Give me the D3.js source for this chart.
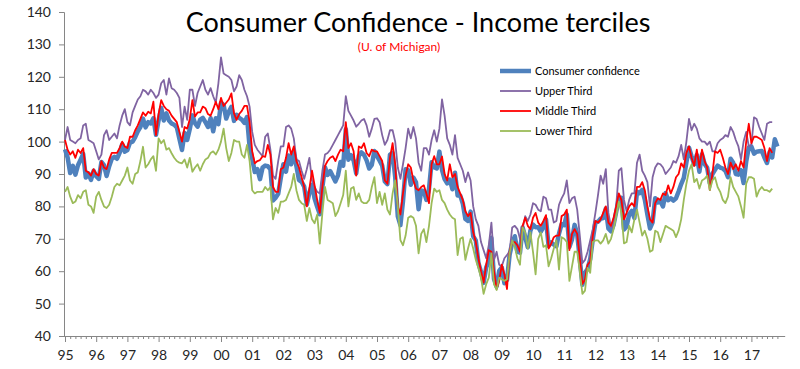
<!DOCTYPE html>
<html><head><meta charset="utf-8">
<script src="https://cdn.jsdelivr.net/npm/d3@7/dist/d3.min.js"></script>
<style>body{margin:0;background:#fff}svg{display:block}text{font-family:Lato,"Liberation Sans",sans-serif}</style>
</head><body>
<svg id="chart" width="800" height="369"></svg>
<script>
// ---- data (monthly, Jan 1995 onward) ----
const yearLabels = ["95","96","97","98","99","00","01","02","03","04","05","06","07","08","09","10","11","12","13","14","15","16","17"];
const yTicks = [40,50,60,70,80,90,100,110,120,130,140];
const seriesNames = ["Consumer confidence","Upper Third","Middle Third","Lower Third"];

const consumer = [
97.6,95.1,90.3,92.5,89.8,92.7,94.4,96.2,88.9,90.2,88.2,91.0,
89.3,88.5,93.7,92.7,89.4,92.4,94.7,95.3,94.7,96.5,99.2,96.9,
97.4,99.7,100.0,101.4,103.2,104.5,107.1,104.4,106.0,105.6,107.2,102.1,
106.6,110.4,106.5,108.7,106.5,105.6,105.2,104.4,100.9,97.4,102.7,100.5,
103.9,108.1,105.7,104.6,106.8,107.3,106.0,104.5,107.2,103.2,107.2,105.4,
112.0,111.3,107.1,109.2,110.7,106.4,108.3,107.3,106.8,105.8,107.6,98.4,
94.7,90.6,91.5,88.4,92.0,92.6,92.4,91.5,81.8,82.7,83.9,88.8,
93.0,90.7,95.7,93.0,96.9,92.4,88.1,87.6,86.1,80.6,84.2,86.7,
82.4,79.9,77.6,86.0,92.1,89.7,90.9,89.3,87.7,89.6,93.7,92.6,
103.8,94.4,95.8,94.2,90.2,95.6,96.7,95.9,94.2,91.7,92.8,97.1,
95.5,94.1,92.6,87.7,86.9,96.0,96.5,89.1,76.9,74.2,81.6,91.5,
91.2,86.7,88.9,87.4,79.1,84.9,84.7,82.0,85.4,93.6,92.1,91.7,
96.9,91.3,88.4,87.1,88.3,85.3,90.4,83.4,83.4,80.9,76.1,75.5,
78.4,70.8,69.5,62.6,59.8,56.4,61.2,63.0,70.3,57.6,55.3,60.1,
61.2,56.3,57.3,65.1,68.7,70.8,66.0,65.7,73.5,70.6,67.4,72.5,
74.4,73.6,73.6,72.2,73.6,76.0,67.8,68.9,68.2,67.7,71.6,74.5,
74.2,77.5,67.5,69.8,74.3,71.5,63.7,55.8,59.5,60.8,63.7,69.9,
75.0,75.3,76.2,76.4,79.3,73.2,72.3,74.3,78.3,82.6,82.7,72.9,
73.8,77.6,78.6,76.4,84.5,84.1,85.1,82.1,77.5,73.2,75.1,82.5,
81.2,81.6,80.0,84.1,81.9,82.5,81.8,82.5,84.6,86.9,88.8,93.6,
98.1,95.4,93.0,95.9,90.7,96.1,93.1,91.9,87.2,90.0,91.3,92.6,
92.0,91.7,91.0,89.0,94.7,93.5,90.0,89.8,91.2,87.2,93.8,98.2,
98.5,96.3,96.9,97.0,97.1,95.1,93.4,96.8,95.1,100.7,98.5
];

const upperThird = [
100.5,104.5,100.5,100,99.5,100.5,101,105,105.5,100.5,100,99.5,
97,94.5,96,102,103.5,100.5,101.5,102.5,101,105,108,110,
106,105,109,111,113,114,116,115.5,114.5,116,115,113.5,
114.5,118,119,114.5,119.5,116.5,116,115,113.5,104.5,110.8,106.7,
116,116,111,115,117,119,116,114.5,116.5,114,112,118,
126,121,120.5,120,119,115.5,117,120.5,119,116,114,110.8,
103,99,97.5,96.5,95.5,101.5,102.5,97.5,89.5,88.5,94,98.5,
98.5,104.5,105,104,101,94.5,94,91,88.5,91.5,95,88,
86,84.5,84,91,96,96.5,97.5,99,100.5,102,103.5,105,
114,109.5,108,106.5,104.6,105.5,106.5,107,105,101.5,104,107,
107.2,106,102,99,100.5,103.5,103.5,100,92,88.5,93,98,
104,101,104.5,101,93.5,91,98,98,96,100.5,103.5,100,
104,113,108,101,99,96,102,95,93,91,87.5,90.5,
88,80,76,74,69,66.5,64,68,75,63.5,66,62,
61.5,64,65,66,73.5,74,73,70,73,77,75.5,77.5,
81,80.5,79,78.5,83,82.5,79,79,75,75.5,80.5,82.5,
84,88,81,82.5,83,79,71,62.5,63.5,66,69.5,73,
78,83.5,89.5,87,91.5,78,73.5,73.5,80,91,91.8,82,
78.5,82,84,84,93.5,96,91,89.5,87.5,80,89,92,
93.3,93,92,90,91,92,94,93.5,95.5,99,94.5,100,
107,103.5,105.5,104,101,100,100,99,100,97,97,99.5,
100.5,101,102,101.5,104.5,103,100.5,98.5,94.5,100,103,98.5,
99,107.5,107,104.5,102.5,100.5,105.5,106,106
];

const middleThird = [
100.5,97.5,96,97,95,97.5,96.5,98,91,90.5,89.5,91.5,
90,89.5,94,92,91.5,94.5,96.5,96.5,96.5,98,100,98.5,
98,101.5,101.5,103.5,105,107,109,108,109.2,108.7,112.3,102,
108.5,112.8,111,110,109.5,108,107,106,103,100,104.5,104,
107,112.8,107.7,109,109,110.8,110.3,108.5,108,110,112.3,110,
113.5,111,112,113,114.9,108.7,106.7,108.5,109.5,111,111,106,
97,93.3,94,94.3,95.5,95.3,99,96,86,84.5,84.5,91.5,
92,95,99.5,96,98.5,94,92,89,86,80,85.5,91,
86.5,82,78,86,92.5,94,95,95.5,94,96,97.5,97,
106,98,99.5,97,89.5,98.5,98,99.5,96.5,95.5,97.5,97,
97,95.5,94,88,87,95,99.5,93,80,77.5,84,89.5,
93,92,88,85.5,85,86,86.5,84,81,93,95.5,93,
93,95.4,90,88,93,89,90,86,84,82,78.5,77,
78,72,69,64,60,56.5,62,66.5,66,60,54.5,57,
62,59,54.5,66,69,69,68,66,74,76.5,74,73,
76.5,78,75,74,75.5,77.3,67,68.5,70.5,71,71,77,
77.5,79,66.5,71.5,73,71.5,64,56,57.5,62,63,71,
75.5,75,76,78,80,75,74,76.5,80,84,82,76,
78,80,81,80,86,86,87.5,85,80,76,75,81,
82.5,82,84,83.5,86.5,84,86,89,90,93.3,92,96.5,
98.5,95,92.5,97.5,92,97.5,94,92,85,90,97,96.5,
97.5,95,92,90,93.5,91.5,93,91,94,92,100,105.5,
99.5,101.5,101.5,101,100.5,98,94,98,96.5
];

const lowerThird = [
84.5,86,83,81,81.5,83.5,82.5,84.5,85,80.5,80,78,
83,84.5,82,80,79.5,80.5,83,86,87,86.5,88,89.5,
92,88,87,90,90.5,94,98.4,92,93,94.5,95.5,91,
101,99.5,100.5,97.5,98,96.4,95,94,93.5,93.3,94.5,92,
95,90.7,92,93,91,93,94.5,95,96.5,97,96,97.5,
100,104,98,94,96.5,100.5,100,100,96,95,99,94,
85,84,84.5,84.5,84.5,86,85,86,76,79.5,78,81.5,
81.5,82,84,86,90,85,82,81,80.5,75.5,79.5,76,
74.8,77.5,68.5,78,86,82,81.5,81,77,78.5,81,83.5,
91,80,85.5,86,82,84,81.5,81,81,82,86,89,
81,84.5,80.5,84,79,77.5,84,88,80,69.6,68,71,
76.5,77,76.5,74,65.5,71.5,73,69,74,81,85.5,84.5,
85,82,81,79,77.5,76.5,76,65,70,70.5,63.5,67,
70,67,63.5,61,58,53,56,58,65.5,56,54.2,58,
57.5,57,57.5,65.5,69.5,67.5,64,62,73.5,72,67,72,
66,59,70,72,67.5,68,61.5,64,67,69.5,60.5,70.5,
70,69,57,61.5,66,66,60,53,54,61,59.5,69,
69.5,69.5,68.5,69.5,71.5,68.5,70,73,77,81.5,78,68.6,
69,74,72,76,79,75,71,72.5,70,66,66.5,72.5,
72,69,71.5,74,73.5,73,72.5,70.5,72.5,76,82,87,
91,93,87.5,88.5,85.5,88,88.5,89.5,85,88,89,86,
84.5,82,81,83,89,86,84.5,83,80,76.5,87,89,
89,88.5,83,85,86,85,85,84.5,85.5
];

// ---- chart ----
const svg = d3.select("#chart");
const x = d3.scaleLinear().domain([0, 277]).range([65, 65 + 277 * 2.6]);
const y = d3.scaleLinear().domain([40, 140]).range([336, 12]);
const axisColor = "#868686";

// y axis
const gy = svg.append("g").attr("transform", `translate(${x(0) - 1},0)`)
  .call(d3.axisLeft(y).tickValues(yTicks).tickSize(5).tickPadding(8).tickFormat(d3.format("d")));
gy.select(".domain").attr("stroke", axisColor);
gy.selectAll(".tick line").attr("stroke", axisColor);
gy.selectAll(".tick text").attr("fill", "#262626").style("font-size", "14px");

// x axis: major ticks (Jan), minor ticks (every 2 months)
const yearStarts = yearLabels.map((d, i) => i * 12);
const minorMonths = d3.range(0, 278, 2).filter(m => m % 12 !== 0);
const gxMinor = svg.append("g").attr("transform", `translate(0,${y(40)})`)
  .call(d3.axisBottom(x).tickValues(minorMonths).tickSize(3).tickSizeOuter(0).tickFormat(""));
gxMinor.select(".domain").attr("stroke", axisColor).attr("d", `M${x(0) - 1},0.5H${x(277)}`);
gxMinor.selectAll(".tick line").attr("stroke", axisColor);
const gx = svg.append("g").attr("transform", `translate(0,${y(40)})`)
  .call(d3.axisBottom(x).tickValues(yearStarts).tickSize(6).tickSizeOuter(0).tickPadding(8)
        .tickFormat((d, i) => yearLabels[i]));
gx.select(".domain").remove();
gx.selectAll(".tick line").attr("stroke", axisColor);
gx.selectAll(".tick text").attr("fill", "#262626").style("font-size", "14px");

// lines
const line = d3.line().x((d, i) => x(i)).y(d => y(d));
const styles = [
  {data: consumer, color: "#4F81BD", w: 4.5},
  {data: upperThird, color: "#8064A2", w: 1.8},
  {data: middleThird, color: "#FF0000", w: 1.8},
  {data: lowerThird, color: "#9BBB59", w: 1.8}
];
styles.forEach(s => {
  svg.append("path").datum(s.data).attr("fill", "none").attr("stroke", s.color)
    .attr("stroke-width", s.w).attr("stroke-linejoin", "round").attr("d", line);
});

// title
svg.append("text").attr("x", 418).attr("y", 32).attr("text-anchor", "middle")
  .style("font-size", "27px").attr("fill", "#000").text("Consumer Confidence - Income terciles");
svg.append("text").attr("x", 399).attr("y", 51).attr("text-anchor", "middle")
  .style("font-size", "12px").attr("fill", "#FF0000").text("(U. of Michigan)");

// legend
const lg = svg.append("g");
seriesNames.forEach((name, i) => {
  const yy = 71 + i * 20;
  lg.append("line").attr("x1", 500).attr("x2", 531).attr("y1", yy).attr("y2", yy)
    .attr("stroke", styles[i].color).attr("stroke-width", styles[i].w);
  lg.append("text").attr("x", 535).attr("y", yy + 4).style("font-size", "11px")
    .attr("fill", "#000").text(name);
});
</script>
</body></html>
